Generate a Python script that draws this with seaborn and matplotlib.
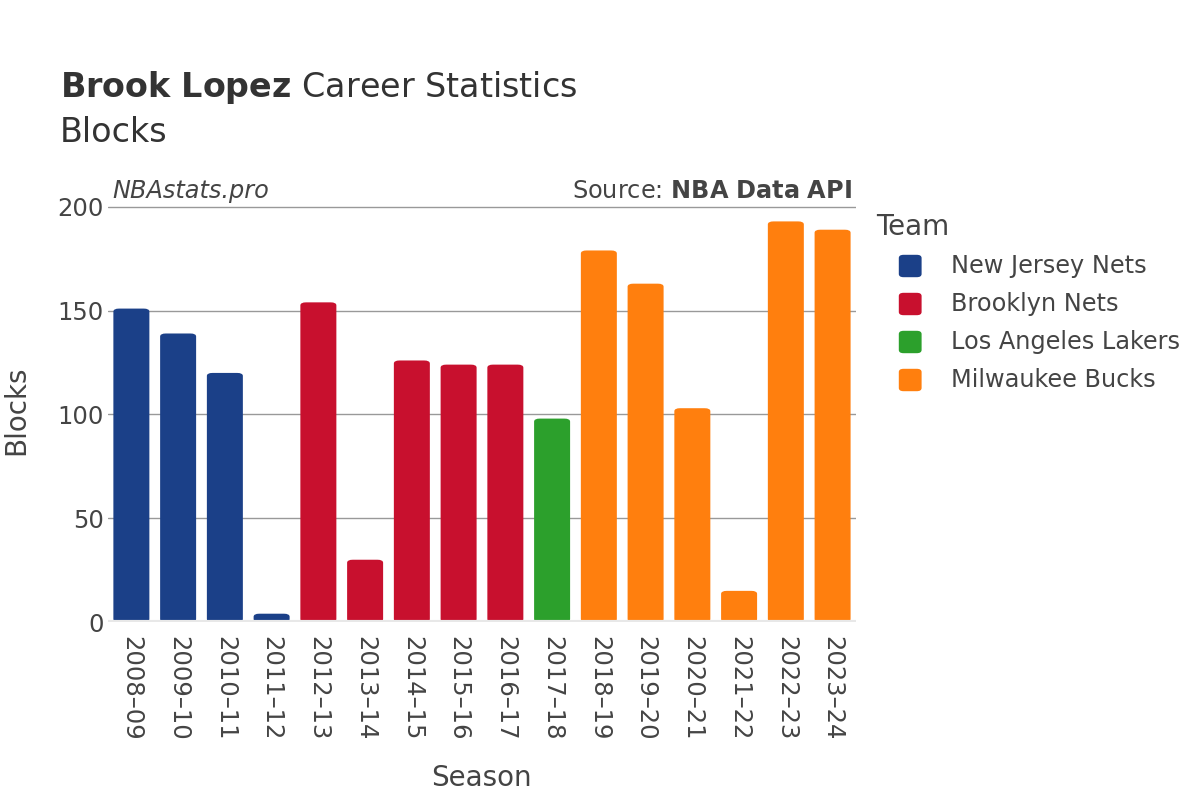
import pandas as pd
import matplotlib.pyplot as plt
import seaborn as sns
from matplotlib.patches import FancyBboxPatch

# Data
seasons = ['2008–09', '2009–10', '2010–11', '2011–12', '2012–13', '2013–14',
           '2014–15', '2015–16', '2016–17', '2017–18', '2018–19', '2019–20',
           '2020–21', '2021–22', '2022–23', '2023–24']
teams = ['New Jersey Nets'] * 4 + ['Brooklyn Nets'] * 5 + ['Los Angeles Lakers'] + ['Milwaukee Bucks'] * 6
blocks = [151, 139, 120, 4, 154, 30, 126, 124, 124, 98, 179, 163, 103, 15, 193, 189]

team_order = ['New Jersey Nets', 'Brooklyn Nets', 'Los Angeles Lakers', 'Milwaukee Bucks']
team_colors = ['#1b4088', '#c8102e', '#2ca02c', '#ff7f0e']

df = pd.DataFrame({'Season': seasons, 'Team': teams, 'Blocks': blocks})

sns.set_style('white')
plt.rcParams['font.family'] = ['DejaVu Sans']
text_col = '#444444'

fig = plt.figure(figsize=(12, 8), dpi=100)
ax = fig.add_axes([0.09, 0.2225, 0.6233, 0.5215])

sns.barplot(data=df, x='Season', y='Blocks', hue='Team', hue_order=team_order,
            palette=team_colors, saturation=1, dodge=False, width=0.77, ax=ax,
            legend=False, zorder=3)

# swap plain bars for rounded ones
for p in list(ax.patches):
    if p.get_height() <= 0:
        continue
    x, y = p.get_x(), p.get_y()
    w, h = p.get_width(), p.get_height()
    rp = FancyBboxPatch((x, y), w, h,
                        boxstyle='round,pad=0,rounding_size=0.12',
                        mutation_aspect=12,
                        facecolor=p.get_facecolor(), edgecolor='none', zorder=3)
    ax.add_patch(rp)
    p.set_visible(False)

ax.set_ylim(0, 201)
ax.set_xlim(-0.5, len(seasons) - 0.5)
ax.set_yticks([0, 50, 100, 150, 200])
ax.yaxis.grid(True, color='#999999', linewidth=1, zorder=0)
ax.axhline(0, color='#e8e8e8', linewidth=3, zorder=4)
for s in ax.spines.values():
    s.set_visible(False)

ax.tick_params(axis='both', length=0, labelsize=17.5, labelcolor=text_col)
ax.tick_params(axis='x', pad=10)
ax.tick_params(axis='y', pad=3)
plt.setp(ax.get_xticklabels(), rotation=-90, ha='center', va='top')

ax.set_xlabel('')
ax.set_ylabel('')
fig.text(0.401, 1 - 778 / 800, 'Season', fontsize=20, color=text_col, ha='center', va='center')
fig.text(0.0135, 1 - 410 / 800, 'Blocks', fontsize=20, color=text_col, ha='center', va='center',
         rotation=90)

fig.text(0.05, 1 - 88 / 800, '$\\bf{Brook\\ Lopez}$ Career Statistics', fontsize=24,
         color='#333333', va='center')
fig.text(0.05, 1 - 132 / 800, 'Blocks', fontsize=24, color='#333333', va='center')

ax.text(0.006, 1.005, 'NBAstats.pro', transform=ax.transAxes, fontsize=17.3,
        style='italic', color=text_col, ha='left', va='bottom')
ax.text(0.995, 1.005, 'Source: $\\bf{NBA\\ Data\\ API}$', transform=ax.transAxes,
        fontsize=17.3, color=text_col, ha='right', va='bottom')

# legend
fig.text(0.73, 1 - 227 / 800, 'Team', fontsize=20, color=text_col, va='center')
for i, (t, c) in enumerate(zip(team_order, team_colors)):
    yy = 1 - (266 + i * 38) / 800
    fig.patches.append(FancyBboxPatch((0.749, yy - 0.014), 0.019, 0.028,
                                      boxstyle='round,pad=0,rounding_size=0.004',
                                      transform=fig.transFigure, facecolor=c,
                                      edgecolor='none', figure=fig))
    fig.text(0.7925, yy, t, fontsize=17.3, color=text_col, va='center')

fig.savefig('out.png', dpi=100)
